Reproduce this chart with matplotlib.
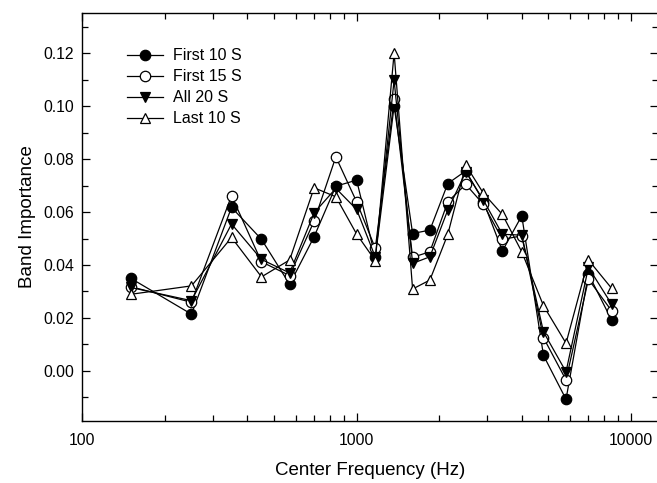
import matplotlib
matplotlib.use("Agg")
import matplotlib.pyplot as plt
from matplotlib.ticker import FixedLocator, FormatStrFormatter, MultipleLocator, LogLocator, NullFormatter

plt.rcParams['font.family'] = ['Liberation Sans', 'DejaVu Sans']

freqs = [150, 250, 350, 450, 570, 700, 840, 1000, 1170, 1370, 1600, 1850,
         2150, 2500, 2900, 3400, 4000, 4800, 5800, 7000, 8500]

first10 = [0.0350, 0.0214, 0.0618, 0.0497, 0.0327, 0.0507, 0.0698, 0.0721, 0.0429, 0.1001,
           0.0519, 0.0532, 0.0708, 0.0756, 0.0640, 0.0453, 0.0586, 0.0058, -0.0108, 0.0366, 0.0192]
first15 = [0.0318, 0.0259, 0.0662, 0.0412, 0.0360, 0.0566, 0.0809, 0.0639, 0.0463, 0.1026,
           0.0429, 0.0450, 0.0639, 0.0705, 0.0629, 0.0497, 0.0510, 0.0125, -0.0035, 0.0346, 0.0227]
all20 = [0.0315, 0.0265, 0.0555, 0.0421, 0.0370, 0.0597, 0.0690, 0.0610, 0.0430, 0.1099,
         0.0406, 0.0431, 0.0608, 0.0752, 0.0645, 0.0516, 0.0513, 0.0147, -0.0004, 0.0391, 0.0252]
last10 = [0.0289, 0.0321, 0.0504, 0.0355, 0.0419, 0.0692, 0.0658, 0.0517, 0.0416, 0.1202,
          0.0309, 0.0343, 0.0516, 0.0778, 0.0671, 0.0591, 0.0450, 0.0246, 0.0104, 0.0419, 0.0312]

series = [
    ("First 10 S", first10, 'o', 'black'),
    ("First 15 S", first15, 'o', 'white'),
    ("All 20 S", all20, 'v', 'black'),
    ("Last 10 S", last10, '^', 'white'),
]

fig = plt.figure(figsize=(6.57, 4.83), dpi=100)
ax = fig.add_axes([82.3/657, 62.3/483, (657.5-82.3)/657, (420.7-13.3)/483])

for label, vals, mk, fc in series:
    ax.plot(freqs, vals, color='black', linewidth=0.9, marker=mk, markersize=7.5,
            markerfacecolor=fc, markeredgecolor='black', markeredgewidth=0.9, label=label)

ax.set_xscale('log')
ax.set_xlim(100, 12500)
ax.set_ylim(-0.0189, 0.1352)

ax.xaxis.set_major_locator(FixedLocator([100, 1000, 10000]))
ax.xaxis.set_major_formatter(FormatStrFormatter('%d'))
ax.xaxis.set_minor_locator(LogLocator(base=10, subs=[2, 3, 4, 5, 6, 7, 8, 9]))
ax.xaxis.set_minor_formatter(NullFormatter())
ax.yaxis.set_major_locator(MultipleLocator(0.02))
ax.yaxis.set_minor_locator(MultipleLocator(0.01))
ax.yaxis.set_major_formatter(FormatStrFormatter('%.2f'))

ax.tick_params(which='both', direction='in', top=True, right=True, labelsize=11.3, width=0.9)
ax.tick_params(which='major', length=6)
ax.tick_params(which='minor', length=4)
ax.tick_params(axis='y', which='major', pad=6)
ax.tick_params(axis='x', which='major', pad=9)
for s in ax.spines.values():
    s.set_linewidth(1.0)

ax.set_xlabel('Center Frequency (Hz)', fontsize=13.5, labelpad=10)
ax.set_ylabel('Band Importance', fontsize=13.5, labelpad=5)

leg = ax.legend(loc='upper left', bbox_to_anchor=(0.066, 0.93), frameon=False, fontsize=11.5,
                handlelength=2.26, handletextpad=0.65, labelspacing=0.38, borderaxespad=0)

fig.savefig('out.png', dpi=100)
